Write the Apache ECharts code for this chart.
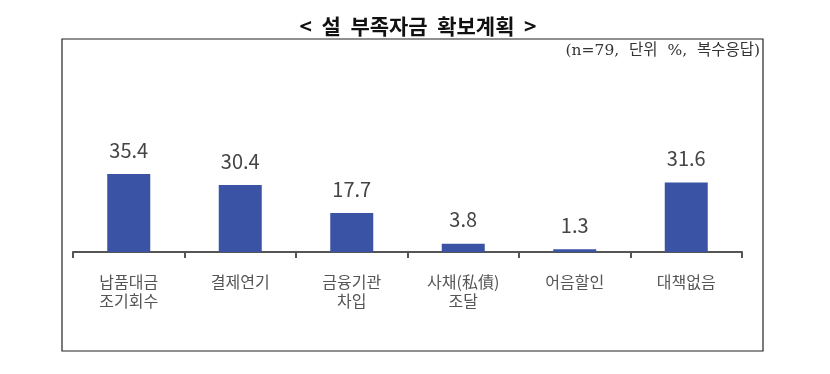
<!DOCTYPE html>
<html><head><meta charset="utf-8">
<script src="https://cdn.jsdelivr.net/npm/echarts@6/dist/echarts.min.js"></script>
<style>html,body{margin:0;padding:0;background:#fff}#c{width:830px;height:374px}</style>
</head><body><div id="c"></div>
<script>
const categories = ['납품대금\n조기회수', '결제연기', '금융기관\n차입', '사채(私債)\n조달', '어음할인', '대책없음'];
const values = [35.4, 30.4, 17.7, 3.8, 1.3, 31.6];
const titleText = '<  설  부족자금  확보계획  >';
const noteText = '(n=79,  단위  %,  복수응답)';

const chart = echarts.init(document.getElementById('c'), null, {renderer: 'canvas'});
chart.setOption({
  backgroundColor: '#fff',
  animation: false,
  title: [{
    text: titleText, left: 413, top: 11, textAlign: 'center',
    textStyle: {fontFamily: '"Noto Sans CJK KR"', fontWeight: 'bold', fontSize: 21, color: '#111'}
  }],
  graphic: [
    {type: 'rect', shape: {x: 62, y: 39, width: 701, height: 312}, style: {fill: 'none', stroke: '#222', lineWidth: 1.2}, silent: true},
    {type: 'text', right: 70, top: 43, style: {text: noteText, fontFamily: '"DejaVu Serif","Noto Sans CJK KR"', fontSize: 15.5, fill: '#333'}}
  ],
  grid: {left: 73, right: 88, top: 164, bottom: 122},
  xAxis: {
    type: 'category', data: categories,
    axisLine: {lineStyle: {color: '#555', width: 2}},
    axisTick: {show: true, length: 6, lineStyle: {color: '#555', width: 2}},
    axisLabel: {color: '#555', fontSize: 16, lineHeight: 19, margin: 20, fontFamily: '"Noto Sans CJK KR"', interval: 0}
  },
  yAxis: {type: 'value', min: 0, max: 40, show: false, splitLine: {show: false}},
  series: [{
    type: 'bar', data: values, barWidth: 43,
    itemStyle: {color: '#3A53A4'},
    label: {show: true, position: 'top', distance: 14, color: '#444', fontSize: 20, fontFamily: '"Noto Sans CJK KR"', formatter: p => p.value.toFixed(1)}
  }]
});
</script></body></html>
